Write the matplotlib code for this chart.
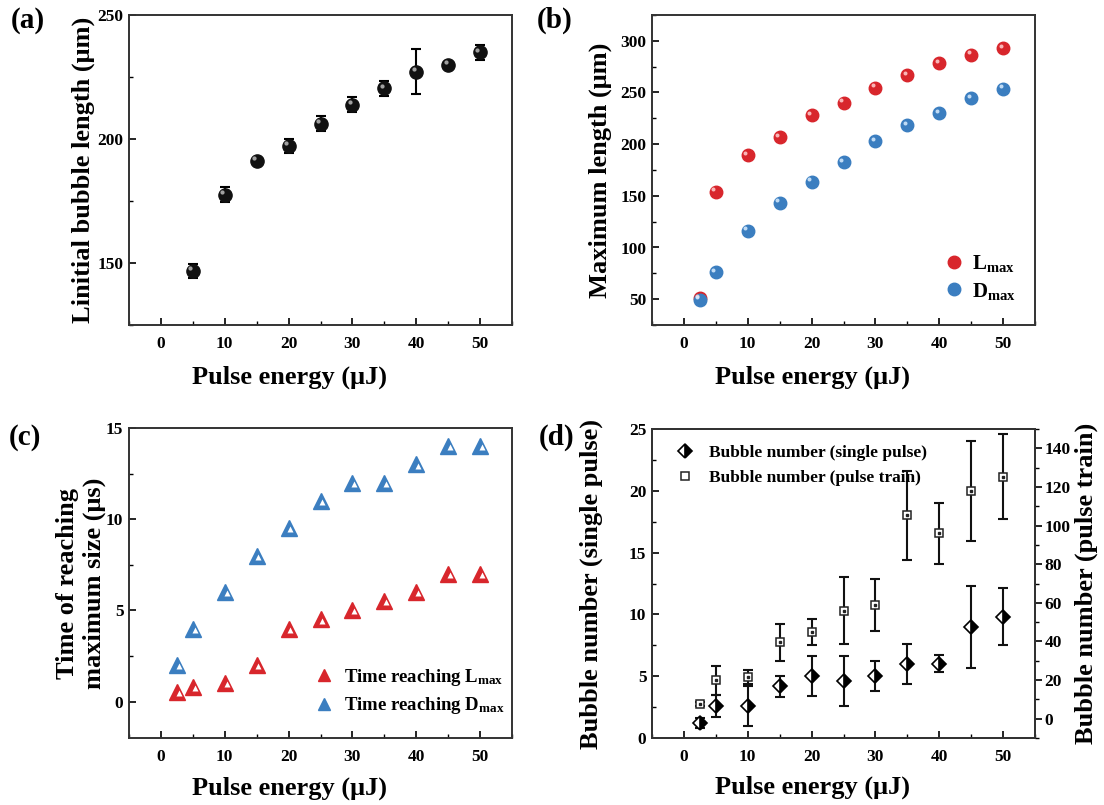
import matplotlib
matplotlib.use("Agg")
import matplotlib.pyplot as plt
import matplotlib.transforms as mtransforms
from matplotlib.ticker import MultipleLocator

plt.rcParams['font.family'] = ['Liberation Serif', 'DejaVu Serif']
plt.rcParams['font.weight'] = 'bold'
plt.rcParams['axes.labelweight'] = 'bold'
plt.rcParams['mathtext.fontset'] = 'custom'
plt.rcParams['mathtext.rm'] = 'Liberation Serif:bold'
plt.rcParams['mathtext.bf'] = 'Liberation Serif:bold'
plt.rcParams['mathtext.it'] = 'Liberation Serif:bold'

RED = '#d8262c'
BLUE = '#3b7ec0'
LABEL_SIZE = 19

# (a) initial bubble length
energy_a = [5, 10, 15, 20, 25, 30, 35, 40, 45, 50]
linitial = [146.8, 177.5, 191.2, 197.3, 206.1, 213.9, 220.5, 227.1, 229.9, 234.9]
linitial_err = [2.8, 3.0, 1.0, 2.9, 3.0, 3.0, 3.0, 9.0, 1.0, 3.0]

# (b) maximum length
energy = [2.5, 5, 10, 15, 20, 25, 30, 35, 40, 45, 50]
l_max = [51, 153.8, 189.1, 206.8, 227.9, 240.2, 254.8, 266.7, 278.1, 286.4, 292.9]
d_max = [49.3, 76.2, 116.3, 143.5, 163.8, 182.6, 202.7, 218.5, 229.8, 244.4, 253.8]

# (c) time reaching maximum size
t_lmax = [0.55, 0.8, 1.0, 2.0, 4.0, 4.5, 5.0, 5.5, 6.0, 7.0, 7.0]
t_dmax = [2.0, 4.0, 6.0, 8.0, 9.5, 11.0, 12.0, 12.0, 13.0, 14.0, 14.0]

# (d) bubble numbers
n_single = [1.2, 2.6, 2.6, 4.2, 5.0, 4.6, 5.0, 6.0, 6.0, 9.0, 9.8]
n_single_err = [0.4, 0.9, 1.6, 0.85, 1.6, 2.05, 1.2, 1.6, 0.7, 3.3, 2.3]
n_train = [7.4, 19.8, 21.5, 39.6, 45.1, 56.0, 58.9, 105.4, 95.9, 118.0, 125.2]
n_train_err = [1.0, 7.5, 3.5, 9.5, 6.7, 17.4, 13.6, 23.0, 16.0, 25.9, 22.0]

fig = plt.figure(figsize=(11.04, 8.05), dpi=100)
W, H = 1104, 805


def add_ax(x0, y0, x1, y1):
    return fig.add_axes([x0 / W, 1 - y1 / H, (x1 - x0) / W, (y1 - y0) / H])


def style(ax, ymajor, yminor, xlab_y):
    ax.set_xlim(-5, 55)
    ax.xaxis.set_major_locator(MultipleLocator(10))
    ax.xaxis.set_minor_locator(MultipleLocator(5))
    ax.yaxis.set_major_locator(MultipleLocator(ymajor))
    ax.yaxis.set_minor_locator(MultipleLocator(yminor))
    ax.tick_params(which='both', direction='in', top=False, right=False, labelsize=12.5)
    ax.tick_params(axis='x', which='major', length=5, width=1.2, pad=8)
    ax.tick_params(axis='y', which='major', length=5, width=1.2, pad=4)
    ax.tick_params(which='minor', length=3, width=1.0)
    for s in ax.spines.values():
        s.set_linewidth(1.4)
        s.set_color('#333333')
    ax.set_xlabel('Pulse energy (μJ)', fontsize=LABEL_SIZE)
    ax.xaxis.set_label_coords(0.42, xlab_y)


def balls(ax, x, y, color, shine, ms, label=None):
    ax.plot(x, y, 'o', color=color, mec=color, ms=ms, label=label, zorder=3)
    hl = mtransforms.offset_copy(ax.transData, fig=fig, x=-ms * 0.2, y=ms * 0.2, units='points')
    ax.plot(x, y, 'o', color=shine, mec='none', ms=ms * 0.32, alpha=0.85,
            transform=hl, zorder=4)


def triangles(ax, x, y, color, label):
    ax.plot(x, y, '^', color=color, mec=color, ms=11, label=label, zorder=3)
    off = mtransforms.offset_copy(ax.transData, fig=fig, x=1.3, y=-0.8, units='points')
    ax.plot(x, y, '^', color='white', mec='none', ms=4.5, transform=off, zorder=4)


# ---- (a)
ax_a = add_ax(129, 15, 512, 325)
style(ax_a, 50, 25, -0.132)
ax_a.set_ylim(125, 250)
ax_a.errorbar(energy_a, linitial, yerr=linitial_err, fmt='none', ecolor='black',
              elinewidth=1.5, capsize=3.5, capthick=1.5, zorder=2)
balls(ax_a, energy_a, linitial, '#111111', '#bbbbbb', 9.5)
ax_a.set_ylabel('Linitial bubble length (μm)', fontsize=LABEL_SIZE)
ax_a.yaxis.set_label_coords(-0.089, 0.5)
fig.text(11 / W, 1 - 20 / H, '(a)', fontsize=21, fontweight='bold', va='center')

# ---- (b)
ax_b = add_ax(652, 15, 1035, 325)
style(ax_b, 50, 25, -0.132)
ax_b.set_ylim(25, 325)
balls(ax_b, energy, l_max, RED, '#ffd0d0', 9, label=r'L$_{\mathbf{max}}$')
balls(ax_b, energy, d_max, BLUE, '#d8ecff', 9, label=r'D$_{\mathbf{max}}$')
ax_b.set_ylabel('Maximum length (μm)', fontsize=LABEL_SIZE)
ax_b.yaxis.set_label_coords(-0.104, 0.5)
ax_b.legend(loc='lower right', bbox_to_anchor=(1.0, 0.015), frameon=False,
            fontsize=15, handletextpad=0.3, labelspacing=0.3, handlelength=1.2)
fig.text(537 / W, 1 - 20 / H, '(b)', fontsize=21, fontweight='bold', va='center')

# ---- (c)
ax_c = add_ax(129, 428, 512, 738)
style(ax_c, 5, 2.5, -0.123)
ax_c.set_ylim(-2, 15)
triangles(ax_c, energy, t_lmax, RED, r'Time reaching L$_{\mathbf{max}}$')
triangles(ax_c, energy, t_dmax, BLUE, r'Time reaching D$_{\mathbf{max}}$')
ax_c.set_ylabel('Time of reaching\nmaximum size (μs)', fontsize=LABEL_SIZE, linespacing=1.2)
ax_c.yaxis.set_label_coords(-0.06, 0.5)
ax_c.legend(loc='lower right', bbox_to_anchor=(1.025, 0.015), frameon=False,
            fontsize=13.5, handletextpad=0.6, labelspacing=0.4, handlelength=1.0,
            markerscale=0.85)
fig.text(9 / W, 1 - 437 / H, '(c)', fontsize=21, fontweight='bold', va='center')

# ---- (d)
ax_d = add_ax(652, 429, 1035, 738)
style(ax_d, 5, 2.5, -0.123)
ax_d.set_ylim(0, 25)
ax_d.errorbar(energy, n_single, yerr=n_single_err, fmt='none', ecolor='#111111',
              elinewidth=1.5, capsize=3.5, capthick=1.5, zorder=2)
h1, = ax_d.plot(energy, n_single, 'D', ms=7.5, mec='black', mew=1.2, mfc='black',
                fillstyle='right', markerfacecoloralt='white', zorder=3,
                label='Bubble number (single pulse)')
ax_d.set_ylabel('Bubble number (single pulse)', fontsize=LABEL_SIZE)
ax_d.yaxis.set_label_coords(-0.128, 0.5)

ax_r = ax_d.twinx()
ax_r.set_ylim(-10, 150)
ax_r.yaxis.set_major_locator(MultipleLocator(20))
ax_r.yaxis.set_minor_locator(MultipleLocator(10))
ax_r.tick_params(which='both', direction='out', labelsize=12.5)
ax_r.tick_params(which='major', length=5, width=1.2, pad=2)
ax_r.tick_params(which='minor', length=3, width=1.0)
for s in ax_r.spines.values():
    s.set_linewidth(1.4)
    s.set_color('#333333')
ax_r.errorbar(energy, n_train, yerr=n_train_err, fmt='none', ecolor='#111111',
              elinewidth=1.5, capsize=3.5, capthick=1.5, zorder=2)
h2, = ax_r.plot(energy, n_train, 's', ms=6, mec='#222222', mew=1.1, mfc='white',
                zorder=3, label='Bubble number (pulse train)')
ax_r.plot(energy, n_train, 's', ms=1.5, mec='#222222', mfc='#222222', zorder=4)
ax_r.set_ylabel('Bubble number (pulse train)', fontsize=LABEL_SIZE)
ax_r.yaxis.set_label_coords(1.104, 0.5)
ax_r.legend([h1, h2], [h1.get_label(), h2.get_label()], loc='upper left',
            bbox_to_anchor=(0.018, 1.0), frameon=False, fontsize=12.5,
            handletextpad=0.8, labelspacing=0.5, handlelength=1.2)
fig.text(539 / W, 1 - 437 / H, '(d)', fontsize=21, fontweight='bold', va='center')

fig.savefig('out.png', dpi=100)
